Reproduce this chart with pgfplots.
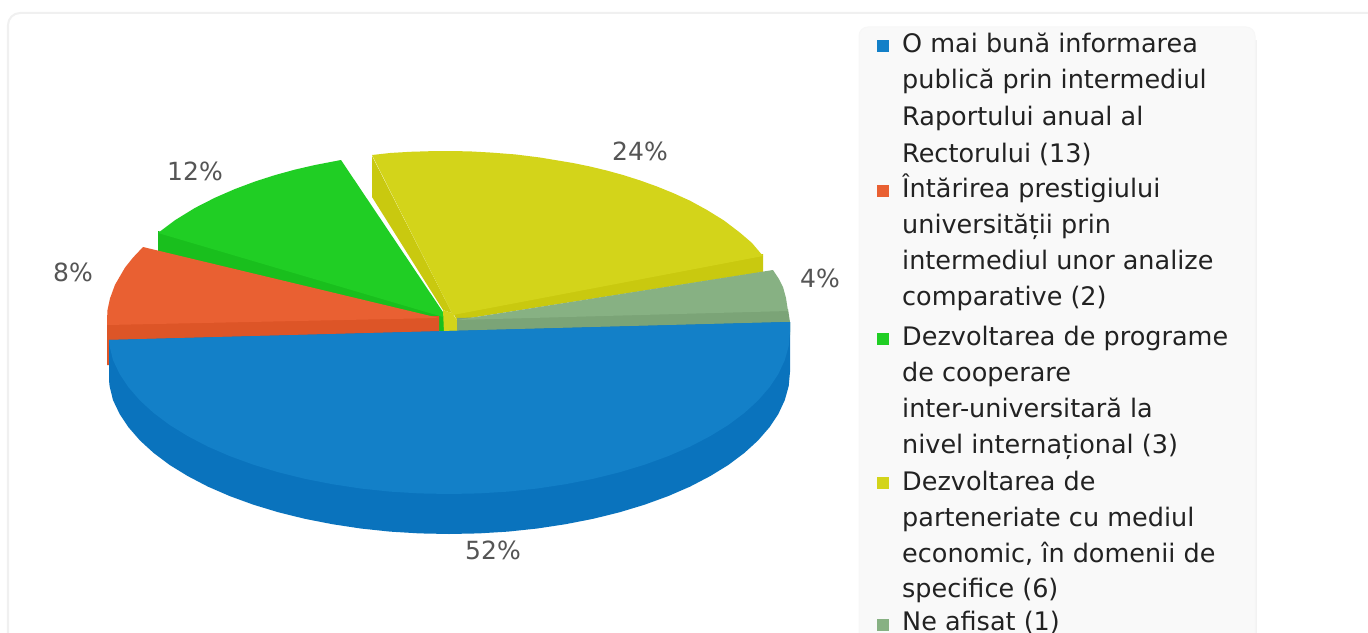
\documentclass[border=0pt]{standalone}
\usepackage{pgfplots}
\usepackage{fontspec}
\setmainfont{DejaVu Sans}
\pgfplotsset{compat=1.18}
\definecolor{btop}{HTML}{1380C8}
\definecolor{bside}{HTML}{0A73BD}
\definecolor{otop}{HTML}{E96032}
\definecolor{oside}{HTML}{DD5527}
\definecolor{gtop}{HTML}{20CE24}
\definecolor{gside}{HTML}{19BF1D}
\definecolor{ytop}{HTML}{D3D41A}
\definecolor{yside}{HTML}{C9C90F}
\definecolor{ntop}{HTML}{87B183}
\definecolor{nside}{HTML}{7BA477}
\definecolor{lab}{HTML}{555555}
\definecolor{txt}{HTML}{222222}
\newcommand{\pct}[3]{\node[font=\fontsize{25bp}{28bp}\selectfont,text=lab,inner sep=0pt,anchor=center] at (axis cs:#1,#2) {#3};}
\newcommand{\leg}[2]{\node[font=\fontsize{25.5bp}{28bp}\selectfont,text=txt,inner sep=0pt,anchor=base west] at (axis cs:902,#1) {#2};}
\begin{document}
\begin{tikzpicture}
\begin{axis}[
  width=1368bp,height=633bp,scale only axis,
  xmin=0,xmax=1368,ymin=0,ymax=633,y dir=reverse,
  hide axis,clip=true,
  every axis plot/.append style={draw=none,mark=none,forget plot,line width=0pt}
]
% card and legend box
\draw[draw=black!6,line width=2bp,rounded corners=12bp,fill=white] (axis cs:8,660) -- (axis cs:8,13) -- (axis cs:1400,13);
\fill[black!5] (axis cs:1254,40) rectangle (axis cs:1256.5,660);
\draw[draw=black!3,line width=1bp,rounded corners=9bp,fill=black!2.5] (axis cs:859,660) -- (axis cs:859,27) -- (axis cs:1255,27) -- (axis cs:1255,660) -- cycle;
% green
\addplot[fill=gside] coordinates {(158,231)(158,260)(444,332)(444,314)};
\addplot[fill=gtop] coordinates {(341,160)(315,165)(295,169.6)(275,175.1)(255,181.5)(235,189)(215,197.7)(195,207.9)(175,220.2)(158,233)(443,317)(443,312)};
% orange
\addplot[fill=oside] coordinates {(107,323)(439,316)(439,335)(110,365)(107,365)};
\addplot[fill=otop] coordinates {(143,247)(133,257.6)(125,267.6)(115,284.8)(110,298.4)(107.5,310)(107,320)(107,325)(439,318)};
% yellow
\addplot[fill=yside] coordinates {(372,156)(452,313)(443,310)(372,197)};
\addplot[fill=ytop] coordinates {(443,310)(452,313)(457,320)(457,333)(444,333)};
\addplot[fill=yside] coordinates {(453,313)(763,254)(763,272)(457,320)};
\addplot[fill=ytop] coordinates {(372,155)(390,153)(410,151.8)(430,151.2)(450,151)(470,151.4)(490,152.5)(515,154.4)(540,157.5)(573,163)(590,166.5)(607,170.6)(623,175)(640,180.4)(657,186.5)(673,193)(690,200.7)(707,210)(724,220.5)(740,232.7)(752,243)(763,256)(453,315)};
% grey-green
\addplot[fill=nside] coordinates {(457,318)(788,309)(790,322)(790,335)(457,335)};
\addplot[fill=ntop] coordinates {(457,320)(773,270)(779,279)(783,287)(786,298)(788,311)};
% blue
\addplot[fill=bside] coordinates {(109,340)(109,380)(109.6,386.1)(113,400.1)(119.6,413.9)(128.6,427.4)(140,440.5)(153.7,453)(169.7,465)(187.8,476.1)(207.9,486.6)(229.8,496.1)(253.4,504.7)(278.5,512.3)(304.8,518.8)(332.4,524.2)(360.7,528.5)(389.8,531.6)(419.3,533.4)(449,534)(478.7,533.4)(508.2,531.6)(537.3,528.5)(565.6,524.2)(593.2,518.8)(619.5,512.3)(644.6,504.7)(668.2,496.1)(690.1,486.6)(710.2,476.1)(728.3,465)(744.3,453)(758,440.5)(769.4,427.4)(778.4,413.9)(784.8,400.1)(788.7,386.1)(790,372)(790,322)};
\addplot[fill=btop] coordinates {(109,340)(109.6,346.1)(113,360.1)(119.6,373.9)(128.6,387.4)(140,400.5)(153.7,413)(169.7,425)(187.8,436.1)(207.9,446.6)(229.8,456.1)(253.4,464.7)(278.5,472.3)(304.8,478.8)(332.4,484.2)(360.7,488.5)(389.8,491.6)(419.3,493.4)(449,494)(478.7,493.4)(508.2,491.6)(537.3,488.5)(565.6,484.2)(593.2,478.8)(619.5,472.3)(644.6,464.7)(668.2,456.1)(690.1,446.6)(710.2,436.1)(728.3,425)(744.3,413)(758,400.5)(769.4,387.4)(778.4,373.9)(784.8,360.1)(788.7,346.1)(790,332)(790,322)(449,331)};
% legend markers
\addplot[only marks,mark=square*,mark size=5.5bp,mark options={draw=btop,fill=btop,line width=0pt}] coordinates {(883,46)};
\addplot[only marks,mark=square*,mark size=5.5bp,mark options={draw=otop,fill=otop,line width=0pt}] coordinates {(883,190.5)};
\addplot[only marks,mark=square*,mark size=5.5bp,mark options={draw=gtop,fill=gtop,line width=0pt}] coordinates {(883,338.5)};
\addplot[only marks,mark=square*,mark size=5.5bp,mark options={draw=ytop,fill=ytop,line width=0pt}] coordinates {(883,483)};
\addplot[only marks,mark=square*,mark size=5.5bp,mark options={draw=ntop,fill=ntop,line width=0pt}] coordinates {(883,625)};
% percent labels
\pct{195}{171}{12\%}
\pct{640}{151}{24\%}
\pct{73}{272}{8\%}
\pct{820}{278}{4\%}
\pct{493}{550}{52\%}
% legend text
\leg{53}{O mai bună informarea}
\leg{89}{publică prin intermediul}
\leg{125}{Raportului anual al}
\leg{162}{Rectorului (13)}
\leg{197}{Întărirea prestigiului}
\leg{233}{universității prin}
\leg{269}{intermediul unor analize}
\leg{305}{comparative (2)}
\leg{345}{Dezvoltarea de programe}
\leg{381}{de cooperare}
\leg{417}{inter-universitară la}
\leg{453}{nivel internațional (3)}
\leg{490}{Dezvoltarea de}
\leg{526}{parteneriate cu mediul}
\leg{562}{economic, în domenii de}
\leg{597}{specifice (6)}
\leg{630}{Ne afisat (1)}
\end{axis}
\pgfresetboundingbox
\path[use as bounding box] (0,0) rectangle (1368bp,633bp);
\end{tikzpicture}
\end{document}
